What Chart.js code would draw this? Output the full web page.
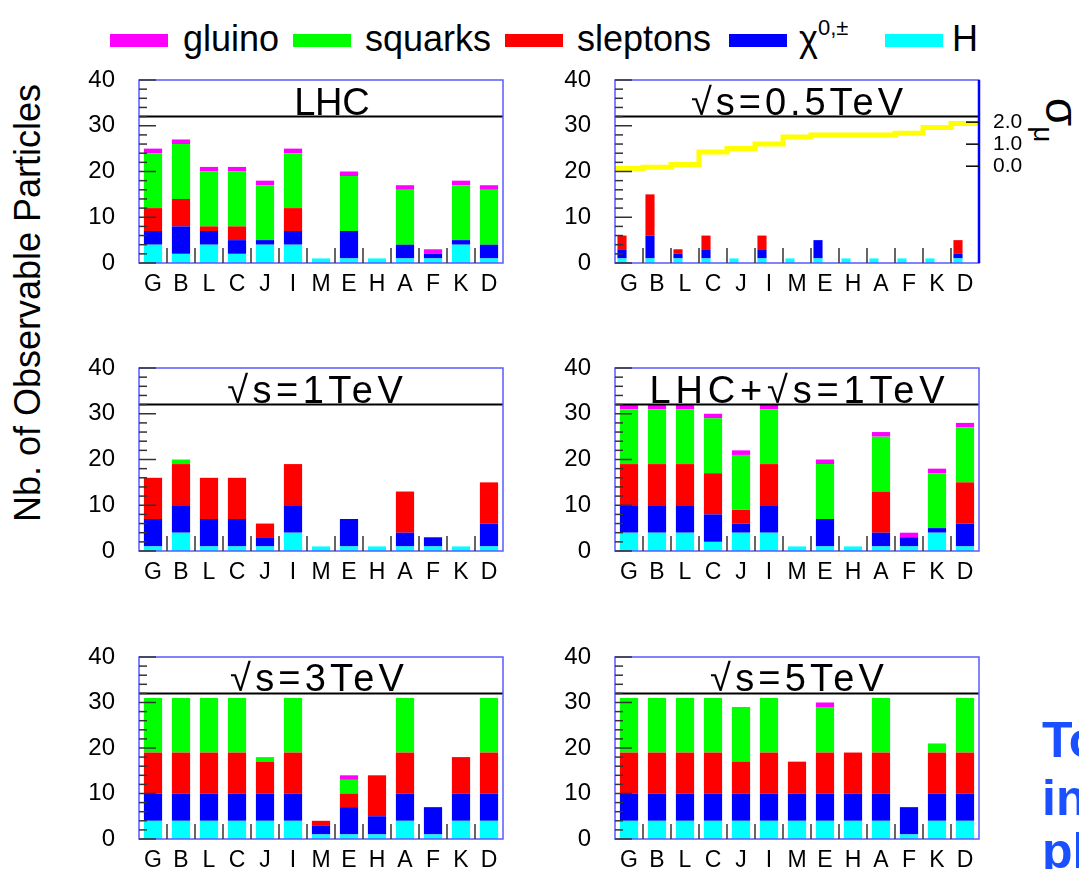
<!DOCTYPE html>
<html><head><meta charset="utf-8">
<script src="https://cdn.jsdelivr.net/npm/chart.js@4.4.0/dist/chart.umd.min.js"></script>
<style>
html,body{margin:0;padding:0;background:#fff;width:1079px;height:869px;overflow:hidden;position:relative;font-family:"Liberation Sans",Arial,sans-serif;}
canvas{position:absolute;}
.t{position:absolute;white-space:nowrap;color:#000;}
.sw{position:absolute;height:13px;width:58px;top:34px;}
.leg{font-size:36px;line-height:36px;top:21px;}
.blue{position:absolute;white-space:nowrap;color:#1a50ff;font-weight:bold;font-size:50px;line-height:50px;left:1042px;}
</style></head><body>

<div class="sw" style="left:110px;background:#ff00ff"></div><div class="t leg" style="left:183px">gluino</div>
<div class="sw" style="left:293px;background:#00ff00"></div><div class="t leg" style="left:365px">squarks</div>
<div class="sw" style="left:505px;background:#ff0000"></div><div class="t leg" style="left:577px">sleptons</div>
<div class="sw" style="left:729px;background:#0000ff"></div><div class="t leg" style="left:799px">χ<span style="font-size:22px;position:relative;top:-16px">0,±</span></div>
<div class="sw" style="left:885px;background:#00ffff"></div><div class="t leg" style="left:952px">H</div>

<div class="t" style="left:28px;top:303px;font-size:36px;line-height:36px;transform:translate(-50%,-50%) rotate(-90deg);">Nb. of Observable Particles</div>
<div class="t" style="left:1058px;top:120px;font-size:46px;line-height:46px;transform:translate(-50%,-50%) rotate(90deg);">σ<span style="font-size:28px;position:relative;top:12px">μ</span></div>

<div class="blue" style="top:715px">To</div>
<div class="blue" style="top:773px">in</div>
<div class="blue" style="top:826px">pl</div>

<script>
const FONT = '"Liberation Sans", Arial, sans-serif';
const categories = ['G','B','L','C','J','I','M','E','H','A','F','K','D'];
const yTicks = [0,10,20,30,40];
const sigmaTicks = [0.0,1.0,2.0];

// LHC
const lhcH    = [4,2,4,2,4,4,1,1,1,1,1,4,1];
const lhcChi  = [3,6,3,3,1,3,0,6,0,3,1,1,3];
const lhcSlep = [5,6,1,3,0,5,0,0,0,0,0,0,0];
const lhcSq   = [12,12,12,12,12,12,0,12,0,12,0,12,12];
const lhcGl   = [1,1,1,1,1,1,0,1,0,1,1,1,1];
// sqrt(s)=0.5 TeV
const s05H    = [1,1,1,1,1,1,1,1,1,1,1,1,1];
const s05Chi  = [2,5,1,2,0,2,0,4,0,0,0,0,1];
const s05Slep = [3,9,1,3,0,3,0,0,0,0,0,0,3];
const s05Sq   = [0,0,0,0,0,0,0,0,0,0,0,0,0];
const s05Gl   = [0,0,0,0,0,0,0,0,0,0,0,0,0];
const s05Sigma= [-0.10,-0.05,0.08,0.65,0.80,1.01,1.33,1.41,1.41,1.41,1.49,1.76,1.94];
// sqrt(s)=1 TeV
const s1H     = [1,4,1,1,1,4,1,1,1,1,1,1,1];
const s1Chi   = [6,6,6,6,2,6,0,6,0,3,2,0,5];
const s1Slep  = [9,9,9,9,3,9,0,0,0,9,0,0,9];
const s1Sq    = [0,1,0,0,0,0,0,0,0,0,0,0,0];
const s1Gl    = [0,0,0,0,0,0,0,0,0,0,0,0,0];
// LHC + sqrt(s)=1 TeV
const c1H     = [4,4,4,2,4,4,1,1,1,1,1,4,1];
const c1Chi   = [6,6,6,6,2,6,0,6,0,3,2,1,5];
const c1Slep  = [9,9,9,9,3,9,0,0,0,9,0,0,9];
const c1Sq    = [12,12,12,12,12,12,0,12,0,12,0,12,12];
const c1Gl    = [1,1,1,1,1,1,0,1,0,1,1,1,1];
// sqrt(s)=3 TeV
const s3H     = [4,4,4,4,4,4,1,1,1,4,1,4,4];
const s3Chi   = [6,6,6,6,6,6,2,6,4,6,6,6,6];
const s3Slep  = [9,9,9,9,7,9,1,3,9,9,0,8,9];
const s3Sq    = [12,12,12,12,1,12,0,3,0,12,0,0,12];
const s3Gl    = [0,0,0,0,0,0,0,1,0,0,0,0,0];
// sqrt(s)=5 TeV
const s5H     = [4,4,4,4,4,4,4,4,4,4,1,4,4];
const s5Chi   = [6,6,6,6,6,6,6,6,6,6,6,6,6];
const s5Slep  = [9,9,9,9,7,9,7,9,9,9,0,9,9];
const s5Sq    = [12,12,12,12,12,12,0,10,0,12,0,2,12];
const s5Gl    = [0,0,0,0,0,0,0,1,0,0,0,0,0];

const COLORS = {H:'#00ffff', chi:'#0000ff', slep:'#ff0000', sq:'#00ff00', gl:'#ff00ff'};

function line(ctx,x1,y1,x2,y2){ctx.beginPath();ctx.moveTo(x1,y1);ctx.lineTo(x2,y2);ctx.stroke();}

const framePlugin = {
  id:'frame',
  afterDraw(chart){
    const {ctx, chartArea:a, scales} = chart;
    const o = chart.options.plugins.frame;
    const y = scales.y, x = scales.x;
    ctx.save();
    ctx.strokeStyle='#000'; ctx.lineWidth=2;
    const p32 = y.getPixelForValue(32);
    line(ctx,a.left,p32,a.right,p32);
    ctx.strokeStyle='#5a5aff'; ctx.lineWidth=1.5;
    ctx.strokeRect(a.left,a.top,a.right-a.left,a.bottom-a.top);
    if (scales.y2){ ctx.strokeStyle='#0000ff'; ctx.lineWidth=2.5; line(ctx,a.right,a.top,a.right,a.bottom); }
    ctx.strokeStyle='#333'; ctx.lineWidth=1.5;
    for(let v=0; v<=40; v+=2){
      const py = y.getPixelForValue(v);
      line(ctx,a.left,py,a.left+(v%10===0?17:8),py);
    }
    for(let i=1;i<categories.length;i++){
      const px=(x.getPixelForValue(i-1)+x.getPixelForValue(i))/2;
      line(ctx,px,a.bottom,px,a.bottom-15);
    }
    if (scales.y2){
      ctx.strokeStyle='#000'; ctx.lineWidth=1.5;
      for(const v of sigmaTicks){ const py=scales.y2.getPixelForValue(v); line(ctx,a.right-13,py,a.right,py); }
    }
    ctx.fillStyle='#000';
    ctx.font='38px '+FONT;
    ctx.textAlign='center'; ctx.textBaseline='alphabetic';
    ctx.letterSpacing='0px';
    const w0 = ctx.measureText(o.title).width;
    const ls = (o.titleW - w0)/o.title.length;
    ctx.letterSpacing = ls.toFixed(2)+'px';
    const cx = o.cx !== undefined ? o.cx - chart.canvas.offsetLeft : (a.left+a.right)/2;
    ctx.fillText(o.title, cx + ls/2, p32-2);
    ctx.restore();
  }
};

function makePanel(p){
  const padL=80, padT=42, padB=45, padR=p.rightExtra;
  const cw=p.W+padL+padR, ch=p.H+padT+padB;
  const cv=document.createElement('canvas');
  cv.width=cw; cv.height=ch;
  cv.style.left=(p.L-padL)+'px'; cv.style.top=(p.T-padT)+'px';
  cv.style.width=cw+'px'; cv.style.height=ch+'px';
  document.body.appendChild(cv);
  const base={type:'bar',stack:'s',barPercentage:0.65,categoryPercentage:1,borderWidth:0,xAxisID:'x',yAxisID:'y'};
  const datasets=[
    Object.assign({label:'H',data:p.d[0],backgroundColor:COLORS.H},base),
    Object.assign({label:'χ0,±',data:p.d[1],backgroundColor:COLORS.chi},base),
    Object.assign({label:'sleptons',data:p.d[2],backgroundColor:COLORS.slep},base),
    Object.assign({label:'squarks',data:p.d[3],backgroundColor:COLORS.sq},base),
    Object.assign({label:'gluino',data:p.d[4],backgroundColor:COLORS.gl},base)
  ];
  const scales={
    x:{type:'category',labels:categories,offset:true,stacked:true,
       grid:{display:false,drawTicks:false},border:{display:false},
       ticks:{color:'#000',font:{size:23,family:FONT},padding:8,maxRotation:0,minRotation:0,autoSkip:false},
       afterFit:s=>{s.height=padB;}},
    y:{type:'linear',position:'left',stacked:true,min:0,max:40,
       grid:{display:false,drawTicks:false},border:{display:false},
       ticks:{color:'#000',font:{size:24,family:FONT},padding:24},
       afterBuildTicks:s=>{s.ticks=yTicks.map(v=>({value:v}));},
       afterFit:s=>{s.width=padL;}}
  };
  let layoutPadR=padR;
  if(p.sigma){
    const pts=[];
    p.sigma.forEach((v,i)=>{pts.push({x:i-0.5,y:v});pts.push({x:i+0.5,y:v});});
    datasets.push({type:'line',label:'σμ',data:pts,xAxisID:'x2',yAxisID:'y2',borderColor:'#ffff00',borderWidth:5,pointRadius:0,fill:false,tension:0,order:-1});
    scales.x2={type:'linear',min:-0.5,max:12.5,display:false};
    scales.y2={type:'linear',position:'right',min:-4.39,max:3.91,
       grid:{display:false,drawTicks:false},border:{display:false},
       ticks:{color:'#000',font:{size:21,family:FONT},padding:14,callback:v=>Number(v).toFixed(1)},
       afterBuildTicks:s=>{s.ticks=sigmaTicks.map(v=>({value:v}));},
       afterFit:s=>{s.width=padR;}};
    layoutPadR=0;
  }
  new Chart(cv,{
    data:{labels:categories,datasets},
    options:{responsive:false,animation:false,devicePixelRatio:1,
      layout:{padding:{left:0,top:padT,right:layoutPadR,bottom:0}},
      plugins:{legend:{display:false},tooltip:{enabled:false},
        frame:{title:p.title,titleW:p.titleW,cx:p.cx}},
      scales},
    plugins:[framePlugin]
  });
}

makePanel({L:139,T:80,W:364,H:183,rightExtra:12,title:'LHC',titleW:75,cx:332,d:[lhcH,lhcChi,lhcSlep,lhcSq,lhcGl]});
makePanel({L:615,T:80,W:364,H:183,rightExtra:100,title:'√s=0.5TeV',titleW:216,d:[s05H,s05Chi,s05Slep,s05Sq,s05Gl],sigma:s05Sigma});
makePanel({L:139,T:368,W:364,H:183,rightExtra:12,title:'√s=1TeV',titleW:180,cx:315,d:[s1H,s1Chi,s1Slep,s1Sq,s1Gl]});
makePanel({L:615,T:368,W:364,H:183,rightExtra:12,title:'LHC+√s=1TeV',titleW:300,d:[c1H,c1Chi,c1Slep,c1Sq,c1Gl]});
makePanel({L:139,T:657,W:364,H:182,rightExtra:12,title:'√s=3TeV',titleW:178,cx:317,d:[s3H,s3Chi,s3Slep,s3Sq,s3Gl]});
makePanel({L:615,T:657,W:364,H:182,rightExtra:12,title:'√s=5TeV',titleW:178,d:[s5H,s5Chi,s5Slep,s5Sq,s5Gl]});
</script>
</body></html>
